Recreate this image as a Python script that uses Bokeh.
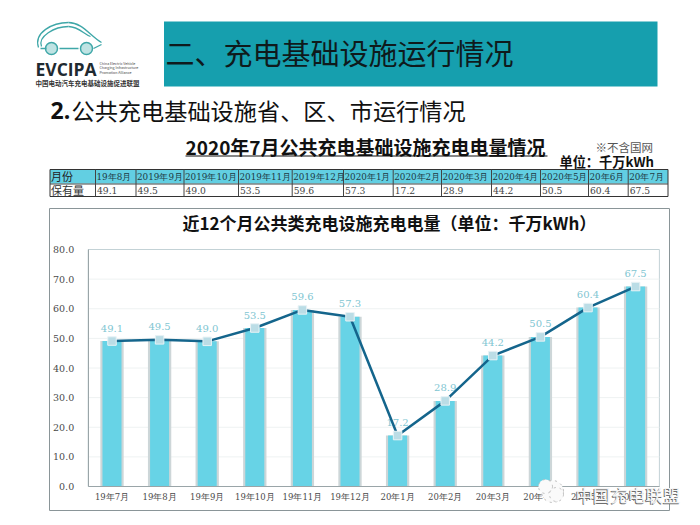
from bokeh.embed import file_html
from bokeh.resources import INLINE
from bokeh.plotting import figure
from bokeh.core.properties import value
from bokeh.models import (ColumnDataSource, FixedTicker, LinearAxis, NumeralTickFormatter, Range1d)

# ---- data ----
chart_months = ["19年7月", "19年8月", "19年9月", "19年10月", "19年11月", "19年12月",
                "20年1月", "20年2月", "20年3月", "20年4月", "20年5月", "20年7月"]
chart_values = [49.1, 49.5, 49.0, 53.5, 59.6, 57.3, 17.2, 28.9, 44.2, 50.5, 60.4, 67.5]
y_ticks = [0, 10, 20, 30, 40, 50, 60, 70, 80]
table_months = ["19年8月", "2019年9月", "2019年10月", "2019年11月", "2019年12月", "2020年1月",
                "2020年2月", "2020年3月", "2020年4月", "2020年5月", "20年6月", "20年7月"]
table_values = ["49.1", "49.5", "49.0", "53.5", "59.6", "57.3", "17.2", "28.9", "44.2", "50.5", "60.4", "67.5"]
table_head = "月份"
table_row = "保有量"
page_title = "二、充电基础设施运行情况"
section_num = "2."
section_title = "公共充电基础设施省、区、市运行情况"
main_title = "2020年7月公共充电基础设施充电电量情况"
note_text = "※不含国网"
unit_text = "单位：千万kWh"
chart_title = "近12个月公共类充电设施充电电量（单位：千万kWh）"

# ---- layout (page pixels) ----
W, H = 684, 512
SERIF = "DejaVu Serif"
SANS = "Noto Sans CJK SC"
col_edges = [49.5, 95, 135.5, 183.5, 238, 291.7, 343, 392.7, 441, 491, 540, 588, 627.7, 667.5]
PX_X0, PX_DX = 111.5, 47.6      # pixel of first category, pixels per category
PX_Y0, PX_DY = 486.0, 237 / 80  # pixel of value 0, pixels per unit

p = figure(width=W, height=H,
           x_range=Range1d(-PX_X0 / PX_DX, (W - PX_X0) / PX_DX),
           y_range=Range1d((PX_Y0 - H) / PX_DY, PX_Y0 / PX_DY),
           x_axis_location=None, y_axis_location=None,
           output_backend="svg", toolbar_location=None,
           min_border_left=0, min_border_right=0, min_border_top=0, min_border_bottom=0)
p.extra_x_ranges["page"] = Range1d(0, W)
p.extra_y_ranges["page"] = Range1d(H, 0)
p.outline_line_color = None
p.grid.visible = False
PG = dict(x_range_name="page", y_range_name="page")
idx = list(range(len(chart_months)))
first, last = idx[0] - 0.5, idx[-1] + 0.5

def box(l, t, r, b, fill=None, line=None, lw=1, level="glyph"):
    p.quad(left=[l], right=[r], top=[t], bottom=[b], fill_color=fill, fill_alpha=1 if fill else 0,
           line_color=line, line_alpha=1 if line else 0, line_width=lw, level=level, **PG)

def label(text, x, y, size, color="#111111", font=SANS, style="normal", align="left", level="glyph"):
    p.text(x=[x], y=[y], text=[text], text_font=value(font), text_font_size=value(f"{size}px"), text_color=color,
           text_font_style=style, text_align=align, text_baseline="middle", level=level, **PG)

# card
box(49, 208, 669, 510, fill="white", line="#8A9598")

# plot area
p.quad(left=[first], right=[last], bottom=[y_ticks[0]], top=[y_ticks[-1]], fill_color="white", line_color="#C3D2D6")
p.segment(x0=first, x1=last, y0=y_ticks[1:-1], y1=y_ticks[1:-1], line_color="#EEF2F2", line_width=1)

# marks
src = ColumnDataSource(dict(i=idx, v=chart_values, t=[f"{v:.1f}" for v in chart_values]))
p.vbar(x="i", top="v", width=0.49, source=src, fill_color="#CDD6D8", line_color=None)
p.vbar(x="i", top="v", width=0.40, source=src, fill_color="#67D3E6", line_color=None)
p.text(x="i", y="v", text="t", source=src, text_color="#7FC6D2", text_font=value(SERIF),
       text_font_size=value("10px"), text_align="center", text_baseline="middle", y_offset=-13)
p.line(x="i", y="v", source=src, line_color="#14658C", line_width=2.5)
p.scatter(x="i", y="v", source=src, marker="square", size=8.5, fill_color="#BBDDE6",
          line_color="#E8F2F5", line_width=1)

# axes
xa = LinearAxis(fixed_location=0, bounds=(first, last), ticker=FixedTicker(ticks=idx),
                major_label_overrides=dict(zip(idx, chart_months)))
ya = LinearAxis(fixed_location=first, bounds=(y_ticks[0], y_ticks[-1]), ticker=FixedTicker(ticks=y_ticks),
                formatter=NumeralTickFormatter(format="0.0"))
for ax, side in ((xa, "below"), (ya, "left")):
    ax.axis_line_color = "#9AA5A8"
    ax.major_tick_line_color = None
    ax.minor_tick_line_color = None
    ax.major_label_text_color = "#4A4A4A"
    ax.major_label_text_font = SERIF
    ax.major_label_text_font_size = "9.5px"
    ax.major_label_standoff = 8
    p.add_layout(ax, side)
xa.major_label_text_font_size = "8.5px"
xa.major_label_standoff = -1

# header band
box(163.5, 21, 657, 86, fill="#169FAE")
label(page_title, 165, 51.5, 29, color="#0F1A1C")
label(section_num, 50, 109.5, 23, font="Open Sans", style="bold")
label(section_title, 71, 109.5, 23.2)
label(main_title, 185, 146, 19, style="bold")
box(185, 155, 547, 156, fill="#111111")
label(note_text, 595, 146, 11.5, color="#555555")
label(unit_text, 559, 161, 13.2, style="bold")

# table
box(col_edges[0], 169, col_edges[-1], 183, fill="#62CFE2")
box(col_edges[0], 169, col_edges[-1], 196, line="#333333")
p.segment(x0=col_edges[0], x1=col_edges[-1], y0=183.5, y1=183.5, line_color="#444444", **PG)
p.segment(x0=col_edges[1:-1], x1=col_edges[1:-1], y0=169, y1=196, line_color="#444444", **PG)
label(table_head, 50.5, 175.5, 11, color="#222222")
label(table_row, 50.5, 189, 11, color="#333333")
for i, (m, v) in enumerate(zip(table_months, table_values)):
    label(m, col_edges[i + 1] + 1, 176, 8.8, color="#1F3A44", font=SERIF)
    label(v, col_edges[i + 1] + 1.5, 190, 9.2, color="#444444", font=SERIF)

# chart title
label(chart_title, 182, 221.5, 17, color="#111111", style="bold")

# logo
TEAL = "#3FA7A8"
p.bezier(x0=[38, 68, 41, 68], y0=[47, 22, 46, 26], x1=[68, 101, 68, 90], y1=[22, 42, 26, 36],
         cx0=[33, 82, 37, 78], cy0=[32, 22, 36, 26], cx1=[52, 90, 54, 84], cy1=[22, 36, 26, 34],
         line_color=TEAL, line_width=1.3, **PG)
p.circle(x=[51, 86], y=[48, 48], radius=6, fill_color="#BFE3E3", line_color=TEAL, line_width=1.5, **PG)
p.segment(x0=[40, 59, 93], x1=[46, 78, 101], y0=[48, 48, 48], y1=[48, 48, 44], line_color=TEAL, line_width=1.3, **PG)
label("EVCIPA", 35, 68, 17.5, color="#1F2A30", font="Open Sans", style="bold")
label("China Electric Vehicle", 99, 62.5, 3.6, color="#444444")
label("Charging Infrastructure", 99, 67, 3.6, color="#444444")
label("Promotion Alliance", 99, 71.5, 3.6, color="#444444")
label("中国电动汽车充电基础设施促进联盟", 35, 82, 6.5, color="#333333", style="bold")

# watermark
p.circle(x=[552, 545, 556], y=[491, 486, 494], radius=[11, 7, 7], fill_color="#FAFAFA",
         line_color="#BBBBBB", line_dash="dotted", level="overlay", **PG)
label("中国充电联盟", 574, 494.5, 17.5, color="#6E6E6E", level="overlay")
label("中国充电联盟", 575, 494, 17.5, color="#F4F4F4", level="overlay")

open("out.html", "w").write(file_html(p, INLINE))
